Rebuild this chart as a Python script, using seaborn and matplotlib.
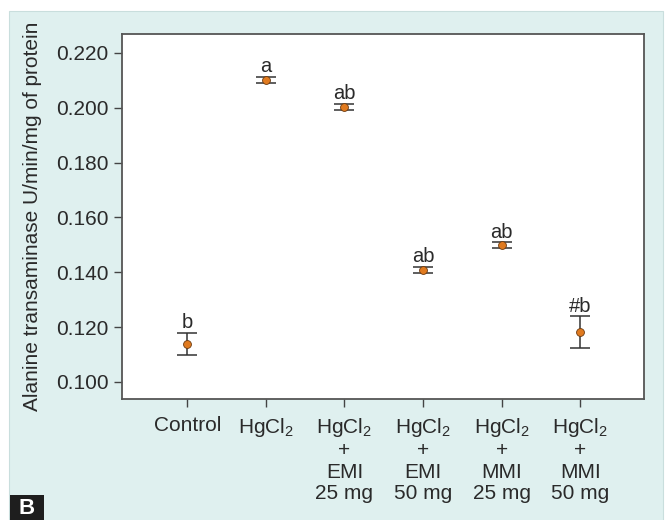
# ALT activity per treatment group, mean +/- error with significance letters
import matplotlib
matplotlib.use("Agg")
import matplotlib.pyplot as plt
from matplotlib.patches import Rectangle
import pandas as pd
import seaborn as sns

# data
groups = ["Control", "HgCl2", "HgCl2+EMI 25", "HgCl2+EMI 50", "HgCl2+MMI 25", "HgCl2+MMI 50"]
tick_labels = [
    "Control",
    "HgCl$_2$",
    "HgCl$_2$\n+\nEMI\n25 mg",
    "HgCl$_2$\n+\nEMI\n50 mg",
    "HgCl$_2$\n+\nMMI\n25 mg",
    "HgCl$_2$\n+\nMMI\n50 mg",
]
means = [0.1139, 0.2101, 0.2003, 0.1409, 0.1499, 0.1182]
errors = [0.0040, 0.0012, 0.0012, 0.0012, 0.0010, 0.0057]
letters = ["b", "a", "ab", "ab", "ab", "#b"]

df = pd.DataFrame({"group": groups, "mean": means, "err": errors})
df["x"] = range(len(df))

sns.set_style("ticks")
plt.rcParams["font.family"] = ["Liberation Sans", "DejaVu Sans"]
plt.rcParams["mathtext.fontset"] = "custom"
plt.rcParams["mathtext.rm"] = "Liberation Sans"
plt.rcParams["mathtext.it"] = "Liberation Sans:italic"

fig = plt.figure(figsize=(6.68, 5.2), dpi=100, facecolor="white")

# background layer: pale teal panel and the "B" tag box
bg = fig.add_axes([0, 0, 1, 1], zorder=0)
bg.set_xlim(0, 668)
bg.set_ylim(520, 0)
bg.axis("off")
bg.add_patch(Rectangle((9, 11), 654, 512, facecolor="#dff0ef", edgecolor="#c9dedd",
                       linewidth=0.8))
bg.add_patch(Rectangle((10, 495), 34, 26, facecolor="#1e1e1e", edgecolor="none"))
bg.text(27, 509, "B", fontsize=16, fontweight="bold", color="white", ha="center",
        va="center")

ax = fig.add_axes([122 / 668, 121 / 520, 522 / 668, 365 / 520], zorder=1)
ax.set_facecolor("white")

ax.errorbar(df["x"], df["mean"], yerr=df["err"], fmt="none", ecolor="#333333",
            elinewidth=1.1, capsize=7.5, capthick=1.1, zorder=2)
sns.scatterplot(data=df, x="x", y="mean", ax=ax, color="#e07a1f", edgecolor="#6b3a10",
                linewidth=0.6, s=32, zorder=3, legend=False)

for x, m, e, lab in zip(df["x"], means, errors, letters):
    ax.annotate(lab, (x, m + e), xytext=(0, 0.5), textcoords="offset points",
                ha="center", va="bottom", fontsize=14.5, color="#2a2a2a")

ax.set_xlim(-0.83, 5.81)
ax.set_ylim(0.0938, 0.2269)
ax.set_yticks([0.100, 0.120, 0.140, 0.160, 0.180, 0.200, 0.220])
ax.set_yticklabels([f"{v:.3f}" for v in ax.get_yticks()])
ax.set_xticks(df["x"])
ax.set_xticklabels(tick_labels, linespacing=1.17, va="top")
ax.tick_params(axis="both", labelsize=15, colors="#444444", length=6, width=1,
               labelcolor="#2a2a2a")
ax.tick_params(axis="x", pad=6)
ax.set_xlabel("")
ax.set_ylabel("Alanine transaminase U/min/mg of protein", fontsize=15, color="#2a2a2a",
              labelpad=10)
for s in ax.spines.values():
    s.set_color("#555555")
    s.set_linewidth(1.3)

fig.savefig("out.png", dpi=100, facecolor=fig.get_facecolor())
